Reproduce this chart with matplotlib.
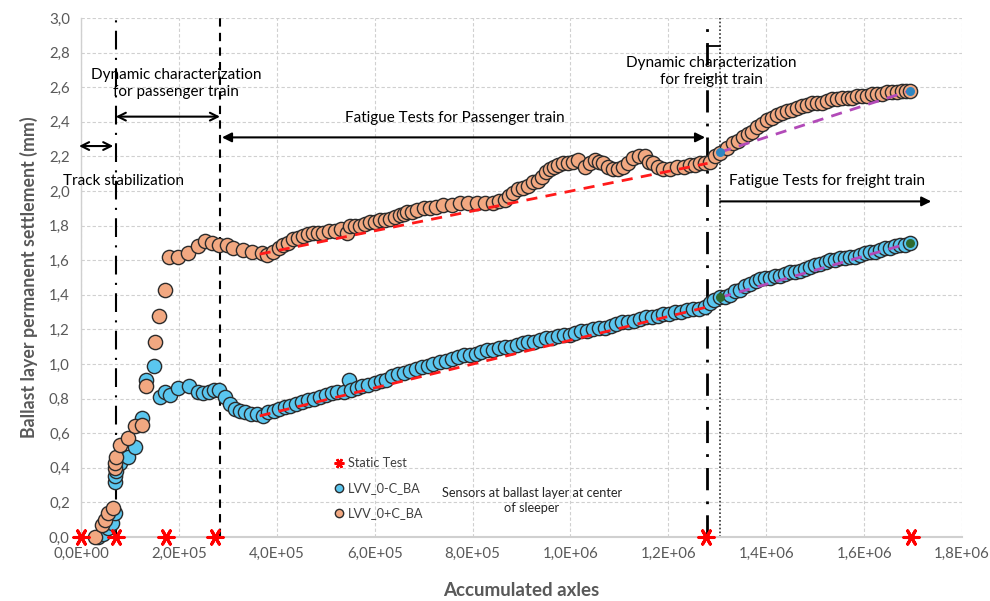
import matplotlib
matplotlib.use("Agg")
import matplotlib.pyplot as plt
from matplotlib.lines import Line2D
from matplotlib.ticker import FuncFormatter, MultipleLocator
import math

plt.rcParams['font.family'] = ['Lato', 'DejaVu Sans']

# ---------------- data ----------------
# LVV_0+C_BA (orange) : accumulated axles (thousands) / settlement (mm)
plus_x = [28, 42, 49, 55, 65, 69, 70, 72, 80, 96, 110, 124, 133, 151, 160, 172,
          180, 198, 219, 239, 253, 268, 281, 298, 311, 331, 349, 369, 380, 393,
          405, 413, 423, 433, 444, 454, 464, 474, 484, 494, 506, 519, 532, 543,
          550, 560, 570, 580, 590, 600, 611, 621, 631, 642, 652, 659, 666, 676,
          687, 700, 713, 726, 740, 757, 774, 791, 809, 825, 842, 854, 866, 875,
          883, 893, 903, 913, 924, 933, 942, 950, 958, 966, 975, 985, 995, 1006,
          1016, 1030, 1040, 1050, 1058, 1067, 1077, 1087, 1097, 1108, 1118, 1128,
          1140, 1153, 1161, 1169, 1179, 1189, 1203, 1218, 1231, 1245, 1255, 1265,
          1275, 1285, 1296, 1306, 1320, 1333, 1343, 1353, 1362, 1371, 1382, 1392,
          1402, 1412, 1422, 1432, 1443, 1453, 1463, 1473, 1484, 1494, 1504, 1514,
          1525, 1535, 1545, 1555, 1566, 1576, 1586, 1596, 1606, 1616, 1627, 1637,
          1647, 1657, 1668, 1678, 1686, 1694]
plus_y = [0.00, 0.07, 0.10, 0.14, 0.17, 0.40, 0.43, 0.46, 0.53, 0.57, 0.64, 0.65,
          0.87, 1.13, 1.28, 1.43, 1.62, 1.62, 1.64, 1.68, 1.71, 1.70, 1.69, 1.69,
          1.67, 1.66, 1.65, 1.64, 1.63, 1.65, 1.67, 1.69, 1.70, 1.72, 1.73, 1.74,
          1.75, 1.76, 1.76, 1.76, 1.77, 1.77, 1.78, 1.76, 1.80, 1.80, 1.80, 1.81,
          1.82, 1.82, 1.83, 1.83, 1.84, 1.85, 1.86, 1.87, 1.88, 1.88, 1.89, 1.90,
          1.90, 1.91, 1.92, 1.92, 1.93, 1.93, 1.93, 1.93, 1.93, 1.94, 1.95, 1.97,
          1.99, 2.01, 2.02, 2.03, 2.05, 2.06, 2.08, 2.11, 2.13, 2.14, 2.15, 2.16,
          2.16, 2.17, 2.18, 2.14, 2.16, 2.18, 2.17, 2.16, 2.14, 2.13, 2.13, 2.14,
          2.16, 2.19, 2.20, 2.20, 2.17, 2.16, 2.14, 2.13, 2.13, 2.14, 2.14, 2.15,
          2.15, 2.16, 2.16, 2.17, 2.20, 2.22, 2.25, 2.28, 2.29, 2.31, 2.33, 2.34,
          2.37, 2.39, 2.41, 2.42, 2.44, 2.45, 2.46, 2.47, 2.48, 2.49, 2.50, 2.51,
          2.51, 2.51, 2.52, 2.53, 2.53, 2.54, 2.54, 2.54, 2.55, 2.55, 2.55, 2.56,
          2.56, 2.56, 2.57, 2.57, 2.57, 2.58, 2.58, 2.58]

# LVV_0-C_BA (blue)
minus_x = [35, 45, 55, 63, 69, 69, 70, 71, 80, 96, 110, 124, 133, 149, 161, 172,
           182, 198, 221, 239, 250, 262, 272, 282, 294, 304, 314, 324, 335, 347,
           359, 372, 383, 395, 405, 417, 428, 440, 452, 464, 476, 488, 500, 512,
           524, 537, 548, 552, 563, 575, 587, 600, 612, 624, 636, 648, 660, 672,
           684, 696, 708, 720, 733, 745, 757, 770, 782, 794, 806, 818, 830, 842,
           854, 866, 878, 890, 902, 914, 926, 938, 950, 962, 974, 986, 998, 1010,
           1022, 1034, 1046, 1058, 1070, 1082, 1094, 1106, 1118, 1130, 1142, 1154,
           1166, 1178, 1190, 1202, 1214, 1226, 1238, 1250, 1262, 1275, 1285, 1294,
           1306, 1316, 1326, 1337, 1347, 1357, 1367, 1378, 1388, 1398, 1408, 1418,
           1428, 1439, 1449, 1459, 1469, 1480, 1490, 1500, 1510, 1521, 1531, 1541,
           1551, 1561, 1571, 1582, 1592, 1602, 1612, 1622, 1633, 1643, 1653, 1663,
           1674, 1684, 1694]
minus_y = [0.00, 0.02, 0.05, 0.08, 0.14, 0.32, 0.35, 0.38, 0.43, 0.46, 0.52, 0.69,
           0.91, 0.99, 0.81, 0.84, 0.82, 0.86, 0.87, 0.84, 0.83, 0.84, 0.85, 0.85,
           0.81, 0.77, 0.74, 0.73, 0.72, 0.71, 0.71, 0.70, 0.72, 0.73, 0.74, 0.75,
           0.76, 0.77, 0.78, 0.79, 0.80, 0.81, 0.82, 0.83, 0.84, 0.84, 0.91, 0.85,
           0.86, 0.87, 0.88, 0.89, 0.90, 0.91, 0.93, 0.94, 0.95, 0.96, 0.97, 0.98,
           0.99, 1.00, 1.01, 1.02, 1.03, 1.04, 1.05, 1.05, 1.06, 1.07, 1.08, 1.08,
           1.09, 1.10, 1.10, 1.11, 1.12, 1.13, 1.13, 1.14, 1.15, 1.15, 1.16, 1.17,
           1.17, 1.18, 1.19, 1.19, 1.20, 1.21, 1.21, 1.22, 1.23, 1.24, 1.24, 1.25,
           1.26, 1.27, 1.27, 1.28, 1.29, 1.29, 1.30, 1.30, 1.31, 1.32, 1.32, 1.33,
           1.35, 1.37, 1.39, 1.39, 1.40, 1.42, 1.43, 1.45, 1.46, 1.48, 1.49, 1.50,
           1.50, 1.51, 1.51, 1.52, 1.53, 1.53, 1.54, 1.55, 1.56, 1.57, 1.58, 1.59,
           1.60, 1.60, 1.61, 1.61, 1.62, 1.62, 1.63, 1.64, 1.65, 1.65, 1.66, 1.67,
           1.67, 1.68, 1.69, 1.69, 1.70]

# Static tests
static_x = [0, 71, 174, 274, 1277, 1696]
static_y = [0, 0, 0, 0, 0, 0]

# Trend lines (start / end points)
trend_pass_plus_x = [365, 1280]
trend_pass_plus_y = [1.635, 2.16]
trend_pass_minus_x = [365, 1280]
trend_pass_minus_y = [0.700, 1.33]
trend_frt_plus_x = [1306, 1694]
trend_frt_plus_y = [2.225, 2.58]
trend_frt_minus_x = [1306, 1694]
trend_frt_minus_y = [1.385, 1.70]

# Phase boundaries (thousands of axles)
phase_x = [71, 284, 1279, 1306]

K = 1000.0
sc = lambda v: [a * K for a in v]

# ---------------- figure ----------------
fig = plt.figure(figsize=(9.9, 6.01), dpi=100)
ax = fig.add_axes([0.0818, 0.1065, 0.8900, 0.8635])

GRAY = '#595959'
ORANGE = '#F2A881'
BLUE = '#5AC6EF'
EDGE = '#2b2b2b'

ax.set_xlim(0, 1.8e6)
ax.set_ylim(0, 3.0)
ax.xaxis.set_major_locator(MultipleLocator(2e5))
ax.yaxis.set_major_locator(MultipleLocator(0.2))


def xfmt(v, pos):
    if v == 0:
        return '0,0E+00'
    e = int(math.floor(math.log10(abs(v)) + 1e-9))
    m = v / 10 ** e
    return f"{m:.1f}".replace('.', ',') + f"E+{e:02d}"


ax.xaxis.set_major_formatter(FuncFormatter(xfmt))
ax.yaxis.set_major_formatter(FuncFormatter(lambda v, p: f"{v:.1f}".replace('.', ',')))
ax.tick_params(axis='both', length=0, labelsize=10.8, labelcolor=GRAY)
ax.tick_params(axis='x', pad=7)
ax.tick_params(axis='y', pad=8)

ax.grid(True, color='#d0d0d0', linestyle=(0, (3, 2)), linewidth=0.8)
ax.set_axisbelow(True)
for s in ['top', 'right']:
    ax.spines[s].set_visible(False)
ax.spines['bottom'].set_color('#d0d0d0')
ax.spines['bottom'].set_linewidth(1.5)
ax.spines['left'].set_color('#d0d0d0')
ax.spines['left'].set_linewidth(1.0)

ax.set_xlabel('Accumulated axles', fontsize=13.5, fontweight='bold', color=GRAY, labelpad=15)
ax.set_ylabel('Ballast layer permanent settlement (mm)', fontsize=12.8, fontweight='bold',
              color=GRAY, labelpad=8)

# phase lines
ax.axvline(phase_x[0] * K, color='black', lw=1.5, ls=(0, (9, 4, 1, 4)), zorder=1)
ax.axvline(phase_x[1] * K, color='black', lw=1.5, ls=(0, (4, 3)), zorder=1)
ax.axvline(phase_x[2] * K, color='black', lw=2.0, ls=(0, (8, 4, 1, 4)), zorder=1)
ax.axvline(phase_x[3] * K, color='#333333', lw=1.2, ls=(0, (1, 1.3)), zorder=1)
ax.plot([phase_x[2] * K, phase_x[3] * K], [2.84, 2.84], color='black', lw=1.3, zorder=1)

# data
ax.scatter(sc(minus_x), minus_y, s=105, color=BLUE, edgecolor=EDGE, linewidth=1.0,
           zorder=3, clip_on=False)
ax.scatter(sc(plus_x), plus_y, s=105, color=ORANGE, edgecolor=EDGE, linewidth=1.0,
           zorder=4, clip_on=False)

# trend lines
ax.plot(sc(trend_pass_plus_x), trend_pass_plus_y, color='#FF1A1A', lw=2.0, ls=(0, (4, 3)), zorder=5)
ax.plot(sc(trend_pass_minus_x), trend_pass_minus_y, color='#FF1A1A', lw=2.0, ls=(0, (4, 3)), zorder=5)
ax.plot(sc(trend_frt_plus_x), trend_frt_plus_y, color='#B24AB8', lw=2.0, ls=(0, (4, 3)), zorder=5)
ax.plot(sc(trend_frt_minus_x), trend_frt_minus_y, color='#B24AB8', lw=2.0, ls=(0, (4, 3)), zorder=5)
ax.scatter(sc(trend_frt_plus_x), trend_frt_plus_y, s=30, color='#2E86C1', zorder=6)
ax.scatter(sc(trend_frt_minus_x), trend_frt_minus_y, s=30, color='#2F6B2F', zorder=6)

# static test markers
ax.scatter(sc(static_x), static_y, marker=(6, 2, 90), s=120, color='red', linewidth=2.2,
           zorder=7, clip_on=False)

# annotations
FS = 11
ap_open = dict(arrowstyle='<->', color='black', lw=1.5, shrinkA=0, shrinkB=0, mutation_scale=14)
ax.annotate('', xy=(-4e3, 2.26), xytext=(66e3, 2.26), arrowprops=ap_open, annotation_clip=False)
ax.text(86e3, 2.06, 'Track stabilization', ha='center', va='center', fontsize=FS)

ax.annotate('', xy=(71e3, 2.43), xytext=(284e3, 2.43), arrowprops=ap_open)
ax.text(194e3, 2.62, 'Dynamic characterization\nfor passenger train', ha='center', va='center',
        fontsize=FS, linespacing=1.3)

ap_fill = dict(arrowstyle='<|-|>', color='black', lw=1.5, shrinkA=0, shrinkB=0, mutation_scale=14)
ax.annotate('', xy=(288e3, 2.31), xytext=(1275e3, 2.31), arrowprops=ap_fill)
ax.text(764e3, 2.42, 'Fatigue Tests for Passenger train', ha='center', va='center', fontsize=FS)

ax.text(1287e3, 2.69, 'Dynamic characterization\nfor freight train', ha='center', va='center',
        fontsize=FS, linespacing=1.3)

ap_one = dict(arrowstyle='-|>', color='black', lw=1.5, shrinkA=0, shrinkB=0, mutation_scale=14)
ax.annotate('', xy=(1737e3, 1.94), xytext=(1306e3, 1.94), arrowprops=ap_one, annotation_clip=False)
ax.text(1524e3, 2.06, 'Fatigue Tests for freight train', ha='center', va='center', fontsize=FS)

ax.text(921e3, 0.21, 'Sensors at ballast layer at center\nof sleeper', ha='center', va='center',
        fontsize=9.2, color='#262626', linespacing=1.3)

# legend
handles = [
    Line2D([], [], ls='none', marker=(6, 2, 90), color='red', markersize=7, markeredgewidth=1.8),
    Line2D([], [], ls='none', marker='o', markerfacecolor=BLUE, markeredgecolor=EDGE, markersize=6),
    Line2D([], [], ls='none', marker='o', markerfacecolor=ORANGE, markeredgecolor=EDGE, markersize=6),
]
ax.legend(handles, ['Static Test', 'LVV_0-C_BA', 'LVV_0+C_BA'], loc='center left',
          bbox_to_anchor=(0.274, 0.094), frameon=False, fontsize=9.2, labelspacing=1.0,
          handlelength=0.8, handletextpad=0.3, labelcolor='#404040')

fig.savefig('out.png', dpi=100)
